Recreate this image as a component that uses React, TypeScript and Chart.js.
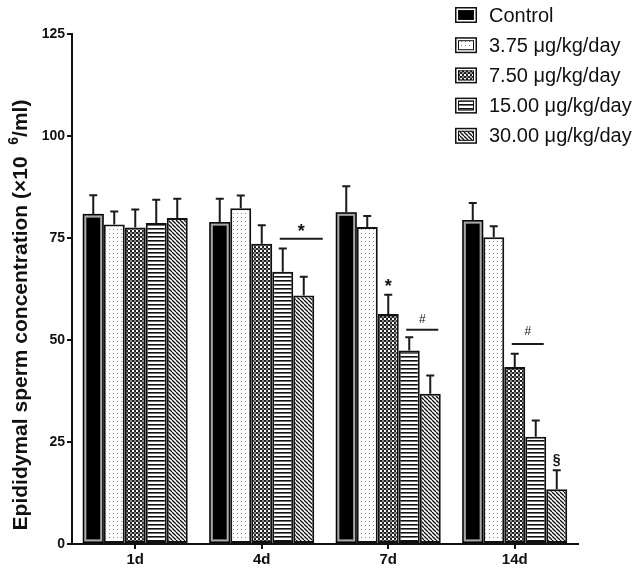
import { useEffect, useRef } from 'react';
import { Chart, registerables } from 'chart.js';

Chart.register(...registerables);

const categories = ['1d', '4d', '7d', '14d'];
const seriesLabels = ['Control', '3.75 μg/kg/day', '7.50 μg/kg/day', '15.00 μg/kg/day', '30.00 μg/kg/day'];
const controlMeans = [80.9, 78.9, 81.3, 79.4];
const dose375Means = [78.3, 82.3, 77.7, 75.2];
const dose750Means = [77.6, 73.6, 56.4, 43.4];
const dose1500Means = [78.7, 66.7, 47.4, 26.3];
const dose3000Means = [79.9, 60.9, 36.8, 13.4];
const controlErr = [4.6, 5.7, 6.4, 4.2];
const dose375Err = [3.2, 3.1, 2.7, 2.7];
const dose750Err = [4.4, 4.5, 4.7, 3.2];
const dose1500Err = [5.7, 5.7, 3.3, 4.0];
const dose3000Err = [4.7, 4.6, 4.5, 4.7];
const yTicks = [0, 25, 50, 75, 100, 125];

// significance marks: label, category index, dataset span, values
const bracketLabels = ['*', '#', '#'];
const bracketCats = [1, 2, 3];
const bracketFrom = [3, 3, 2];
const bracketTo = [4, 4, 3];
const bracketLineValues = [74.8, 52.5, 49.0];
const bracketTextValues = [77.4, 54.9, 52.0];
const singleLabels = ['*', '§'];
const singleCats = [2, 3];
const singleSeries = [2, 4];
const singleValues = [64.0, 20.6];

const FONT = "'Liberation Sans', Arial, sans-serif";

function makePattern(kind: string): CanvasPattern | string {
  const c = document.createElement('canvas');
  const s = 4;
  c.width = s;
  c.height = s;
  const g = c.getContext('2d')!;
  g.fillStyle = '#fff';
  g.fillRect(0, 0, s, s);
  if (kind === 'dots') {
    g.fillStyle = '#8a8a8a';
    g.fillRect(1, 1, 1, 1);
  } else if (kind === 'checker') {
    g.fillStyle = '#222';
    g.fillRect(0, 0, 2, 2);
    g.fillRect(2, 2, 2, 2);
    g.fillStyle = '#888';
    g.fillRect(2, 0, 2, 2);
  } else if (kind === 'hlines') {
    g.fillStyle = '#111';
    g.fillRect(0, 0, s, 1.6);
  } else if (kind === 'diag') {
    g.strokeStyle = '#111';
    g.lineWidth = 1.3;
    for (let x0 = -s; x0 <= s; x0 += s) {
      g.beginPath();
      g.moveTo(x0, 0);
      g.lineTo(x0 + s, s);
      g.stroke();
    }
  }
  const ctx = document.createElement('canvas').getContext('2d')!;
  return ctx.createPattern(c, 'repeat') || '#fff';
}

export default function App() {
  const ref = useRef<HTMLCanvasElement | null>(null);

  useEffect(() => {
    document.body.style.margin = '0';
    const canvas = ref.current;
    if (!canvas) return;

    const fills: any[] = ['#000', makePattern('dots'), makePattern('checker'), makePattern('hlines'), makePattern('diag')];
    const means = [controlMeans, dose375Means, dose750Means, dose1500Means, dose3000Means];
    const errs = [controlErr, dose375Err, dose750Err, dose1500Err, dose3000Err];

    const overlay = {
      id: 'overlay',
      afterDatasetsDraw(chart: any) {
        const ctx = chart.ctx as CanvasRenderingContext2D;
        const ys = chart.scales.y;
        ctx.save();
        // control outer outline
        const m0 = chart.getDatasetMeta(0);
        ctx.strokeStyle = '#000';
        ctx.lineWidth = 1.5;
        m0.data.forEach((el: any) => {
          const l = el.x - el.width / 2;
          ctx.strokeRect(l + 0.75, el.y + 0.75, el.width - 1.5, el.base - el.y - 1.5);
        });
        // error bars
        ctx.strokeStyle = '#1a1a1a';
        ctx.lineWidth = 2;
        means.forEach((arr, i) => {
          const meta = chart.getDatasetMeta(i);
          meta.data.forEach((el: any, j: number) => {
            const top = ys.getPixelForValue(arr[j] + errs[i][j]);
            ctx.beginPath();
            ctx.moveTo(el.x, el.y);
            ctx.lineTo(el.x, top);
            ctx.moveTo(el.x - 4, top);
            ctx.lineTo(el.x + 4, top);
            ctx.stroke();
          });
        });
        // brackets
        ctx.fillStyle = '#111';
        ctx.textAlign = 'center';
        ctx.textBaseline = 'middle';
        bracketLabels.forEach((lab, k) => {
          const a = chart.getDatasetMeta(bracketFrom[k]).data[bracketCats[k]] as any;
          const b = chart.getDatasetMeta(bracketTo[k]).data[bracketCats[k]] as any;
          const x1 = a.x - 3;
          const x2 = b.x + (bracketCats[k] === 1 ? 19 : 8);
          const yl = ys.getPixelForValue(bracketLineValues[k]);
          ctx.lineWidth = 2;
          ctx.beginPath();
          ctx.moveTo(x1, yl);
          ctx.lineTo(x2, yl);
          ctx.stroke();
          ctx.font = lab === '*' ? `bold 18px ${FONT}` : `12px ${FONT}`;
          ctx.fillText(lab, (x1 + x2) / 2, ys.getPixelForValue(bracketTextValues[k]) + (lab === '*' ? 4 : 0));
        });
        singleLabels.forEach((lab, k) => {
          const el = chart.getDatasetMeta(singleSeries[k]).data[singleCats[k]] as any;
          ctx.font = lab === '*' ? `bold 18px ${FONT}` : `bold 14px ${FONT}`;
          ctx.fillText(lab, el.x, ys.getPixelForValue(singleValues[k]) + (lab === '*' ? 4 : 0));
        });
        ctx.restore();
      },
      afterDraw(chart: any) {
        const ctx = chart.ctx as CanvasRenderingContext2D;
        ctx.save();
        // legend
        const bx = 455, bw = 22, bh = 16, y0 = 15, step = 30.2;
        seriesLabels.forEach((lab, i) => {
          const cy = y0 + i * step;
          const top = cy - bh / 2;
          ctx.fillStyle = '#fff';
          ctx.fillRect(bx, top, bw, bh);
          ctx.strokeStyle = '#111';
          ctx.lineWidth = 1.5;
          ctx.strokeRect(bx + 0.75, top + 0.75, bw - 1.5, bh - 1.5);
          ctx.fillStyle = fills[i];
          ctx.fillRect(bx + 3, top + 3, bw - 6, bh - 6);
          ctx.lineWidth = 1;
          ctx.strokeRect(bx + 3.5, top + 3.5, bw - 7, bh - 7);
          ctx.fillStyle = '#111';
          ctx.font = `20px ${FONT}`;
          ctx.textAlign = 'left';
          ctx.textBaseline = 'middle';
          ctx.fillText(lab, 489, cy + 1);
        });
        // y axis title
        ctx.translate(21, 315);
        ctx.rotate(-Math.PI / 2);
        ctx.textBaseline = 'middle';
        ctx.textAlign = 'left';
        const main = 'Epididymal sperm concentration (×10  ';
        const tail = '/ml)';
        ctx.font = `bold 21px ${FONT}`;
        const w1 = ctx.measureText(main).width;
        const w3 = ctx.measureText(tail).width;
        ctx.font = `bold 14px ${FONT}`;
        const w2 = ctx.measureText('6').width;
        const total = w1 + w2 + w3;
        let x = -total / 2;
        ctx.fillStyle = '#111';
        ctx.font = `bold 21px ${FONT}`;
        ctx.fillText(main, x, 0);
        x += w1;
        ctx.font = `bold 14px ${FONT}`;
        ctx.fillText('6', x, -7);
        x += w2;
        ctx.font = `bold 21px ${FONT}`;
        ctx.fillText(tail, x, 0);
        ctx.restore();
      },
    };

    const chart = new Chart(canvas, {
      type: 'bar',
      data: {
        labels: categories,
        datasets: means.map((arr, i) => ({
          label: seriesLabels[i],
          data: arr,
          backgroundColor: fills[i],
          borderColor: i === 0 ? '#a8a8a8' : '#111',
          borderWidth: i === 0 ? 3.5 : 2,
          borderSkipped: false,
          barPercentage: 1,
          categoryPercentage: 0.83,
        })),
      },
      options: {
        responsive: false,
        animation: false,
        layout: { padding: { top: 34, right: 62, left: 0, bottom: 0 } },
        plugins: { legend: { display: false }, tooltip: { enabled: false } },
        scales: {
          x: {
            type: 'category',
            offset: true,
            grid: { offset: false, drawOnChartArea: false, drawTicks: true, tickLength: 5, color: '#111', lineWidth: 2 },
            border: { display: true, color: '#111', width: 2 },
            ticks: { color: '#111', padding: 2, font: { family: FONT, weight: 'bold', size: 15 } },
            afterFit: (s: any) => { s.height = 25; },
          },
          y: {
            min: 0,
            max: 125,
            afterBuildTicks: (s: any) => { s.ticks = yTicks.map((v) => ({ value: v })); },
            grid: { drawOnChartArea: false, drawTicks: true, tickLength: 5, color: '#111', lineWidth: 2 },
            border: { display: true, color: '#111', width: 2 },
            ticks: { color: '#111', padding: 2, font: { family: FONT, weight: 'bold', size: 14 } },
            afterFit: (s: any) => { s.width = 72; },
          },
        },
      },
      plugins: [overlay],
    } as any);

    return () => chart.destroy();
  }, []);

  return (
    <div style={{ width: 640, height: 569, background: '#fff' }}>
      <canvas ref={ref} width={640} height={569} style={{ display: 'block' }} />
    </div>
  );
}
